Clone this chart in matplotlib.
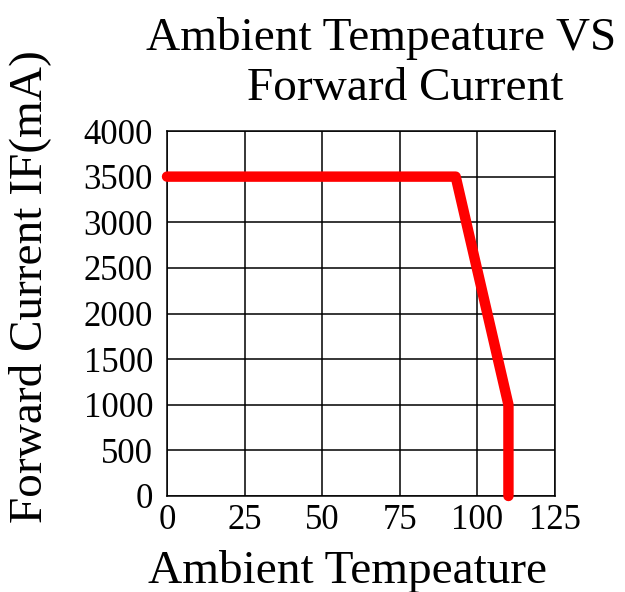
import matplotlib.pyplot as plt

# Derating curve
temp = [0, 93, 110, 110]
current = [3500, 3500, 1000, 0]

x_ticks = [0, 25, 50, 75, 100, 125]
y_ticks = [0, 500, 1000, 1500, 2000, 2500, 3000, 3500, 4000]

plt.rcParams["font.family"] = ["Liberation Serif", "DejaVu Serif"]

fig = plt.figure(figsize=(6.25, 5.92), dpi=100)
ax = fig.add_axes([167 / 625, 1 - 496 / 592, 388 / 625, 365 / 592])

ax.plot(temp, current, color="#ff0000", linewidth=7.5,
        solid_capstyle="round", solid_joinstyle="round", clip_on=False, zorder=3)

ax.set_xlim(0, 125)
ax.set_ylim(0, 4000)
ax.set_xticks(x_ticks)
ax.set_yticks(y_ticks)
ax.grid(True, color="black", linewidth=1.1)
ax.tick_params(length=0, labelsize=25)
ax.tick_params(axis="y", pad=10)
ax.tick_params(axis="x", pad=6)
for s in ax.spines.values():
    s.set_linewidth(1.1)

# title lines, positioned like the reference
fig.text(381 / 625, 1 - 50 / 592, "Ambient Tempeature VS", fontsize=34,
         ha="center", va="baseline")
fig.text(405 / 625, 1 - 100 / 592, "Forward Current", fontsize=34,
         ha="center", va="baseline")
fig.text(348 / 625, 1 - 583 / 592, "Ambient Tempeature", fontsize=34,
         ha="center", va="baseline")
fig.text(30 / 625, 1 - 287 / 592, "Forward Current IF(mA)", fontsize=34,
         ha="center", va="center", rotation=90)

fig.savefig("out.png", dpi=100)
